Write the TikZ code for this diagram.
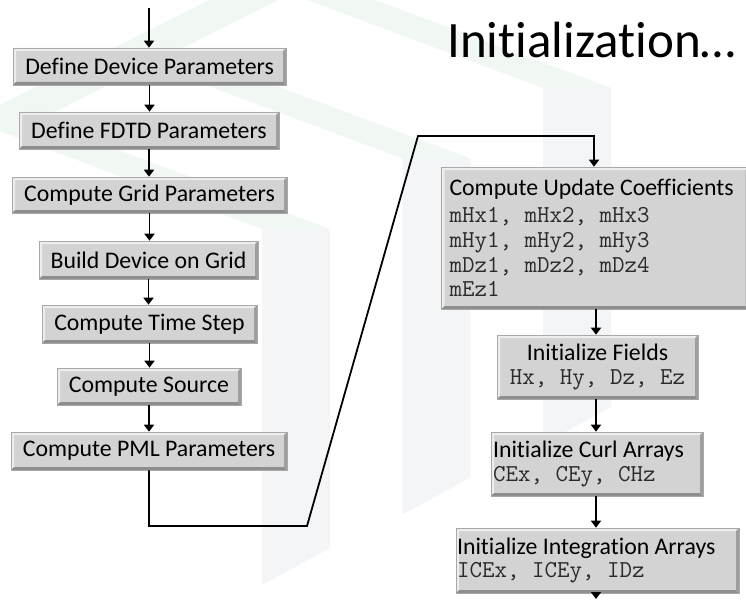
\documentclass[tikz,border=0pt]{standalone}
\usepackage{fontspec}
\setmainfont{Carlito}[Ligatures=NoCommon]
\usetikzlibrary{arrows.meta}
\definecolor{boxfill}{HTML}{D3D3D3}
\definecolor{boxedge}{HTML}{A8A8A8}
\definecolor{bevlight}{HTML}{EDEDED}
\definecolor{bevdark}{HTML}{8E8E8E}
\definecolor{bevmid}{HTML}{9E9E9E}
\definecolor{wmgreen}{HTML}{F1F7F3}
\definecolor{wmgray}{HTML}{F4F5F7}
\definecolor{monotext}{HTML}{2A2A2A}
\tikzset{
  bevel/.style={path picture={
    \fill[bevlight] (path picture bounding box.north west) -- (path picture bounding box.north east)
       -- ([shift={(-3pt,-3pt)}]path picture bounding box.north east) -- ([shift={(3pt,-3pt)}]path picture bounding box.north west) -- cycle;
    \fill[bevlight] (path picture bounding box.north west) -- ([shift={(3pt,-3pt)}]path picture bounding box.north west)
       -- ([shift={(3pt,3pt)}]path picture bounding box.south west) -- (path picture bounding box.south west) -- cycle;
    \fill[bevdark] (path picture bounding box.south west) -- (path picture bounding box.south east)
       -- ([shift={(-3pt,3pt)}]path picture bounding box.south east) -- ([shift={(3pt,3pt)}]path picture bounding box.south west) -- cycle;
    \fill[bevmid] (path picture bounding box.north east) -- (path picture bounding box.south east)
       -- ([shift={(-3pt,3pt)}]path picture bounding box.south east) -- ([shift={(-3pt,-3pt)}]path picture bounding box.north east) -- cycle;
  }},
  flowbox/.style={rectangle, fill=boxfill, draw=boxedge, line width=0.6pt, bevel,
    inner sep=0pt, font=\fontsize{23.8}{24.7}\selectfont, text=black},
  arr/.style={line width=1.8pt, -{Triangle[length=7pt,width=10pt]}},
}
\newcommand{\mtxt}[1]{{\ttfamily\fontsize{24.3}{24.7}\selectfont\color{monotext}#1}}
\begin{document}
\begin{tikzpicture}[x=1pt,y=-1pt]
\useasboundingbox (0,0) rectangle (746,599);
\fill[white] (0,0) rectangle (746,599);
% watermark
\foreach \dx/\dy in {0/0,140.5/-70.5,281/-141}{
  \begin{scope}[shift={(\dx,\dy)}]
    \fill[wmgreen] (-30,120) -- (210,0) -- (278,0) -- (38,120) -- cycle;
    \fill[wmgreen] (-30,120) -- (262,229) -- (330,229) -- (38,120) -- cycle;
    \fill[wmgray] (262,229) -- (330,229) -- (330,548) -- (262,585) -- cycle;
  \end{scope}
}
% title
\node[anchor=base west, inner sep=0pt, font=\fontsize{51}{51}\selectfont] (title) at (447,58) {Initialization…};
% left column
\coordinate (start) at (149,8);
\node[flowbox, minimum width=273pt, minimum height=37pt] (d1) at (149.5,66.5) {Define Device Parameters};
\node[flowbox, minimum width=260pt, minimum height=37pt] (d2) at (149,130.5) {Define FDTD Parameters};
\node[flowbox, minimum width=275pt, minimum height=36pt] (d3) at (149.5,195) {Compute Grid Parameters};
\node[flowbox, minimum width=219pt, minimum height=38pt] (d4) at (148.5,260) {Build Device on Grid};
\node[flowbox, minimum width=215pt, minimum height=38pt] (d5) at (149.5,324) {Compute Time Step};
\node[flowbox, minimum width=184pt, minimum height=37pt] (d6) at (149,386.5) {Compute Source};
\node[flowbox, minimum width=276pt, minimum height=38pt] (d7) at (149,451) {Compute PML Parameters};
% right column
\node[flowbox, minimum width=306pt, minimum height=142pt, text width=291pt, align=flush left, inner xsep=8pt] (r1) at (595,238)
  {Compute Update Coefficients\\[2.3pt]
   \mtxt{mHx1, mHx2, mHx3}\\
   \mtxt{mHy1, mHy2, mHy3}\\
   \mtxt{mDz1, mDz2, mDz4}\\
   \mtxt{mEz1}};
\node[flowbox, minimum width=201pt, minimum height=64pt, align=center] (r2) at (597.5,367)
  {Initialize Fields\\[-1pt] \mtxt{Hx, Hy, Dz, Ez}};
\node[flowbox, minimum width=212pt, minimum height=64pt, text width=208pt, align=flush left, inner xsep=2pt] (r3) at (597,464)
  {Initialize Curl Arrays\\[-1pt] \mtxt{CEx, CEy, CHz}};
\node[flowbox, minimum width=283pt, minimum height=65pt, text width=281pt, align=flush left, inner xsep=1pt] (r4) at (597.5,560.5)
  {Initialize Integration Arrays\\[-1pt] \mtxt{ICEx, ICEy, IDz}};
\coordinate (endpt) at (596,599);
% connectors
\draw[arr] (start) -- (start |- d1.north);
\draw[arr] (d1.south) -- (d1.south |- d2.north);
\draw[arr] (d2.south) -- (d2.south |- d3.north);
\draw[arr] (d3.south) -- (d3.south |- d4.north);
\draw[arr] (d4.south) -- (d4.south |- d5.north);
\draw[arr] (d5.south) -- (d5.south |- d6.north);
\draw[arr] (d6.south) -- (d6.south |- d7.north);
\coordinate (k1) at (149,526);
\coordinate (k2) at (307,526);
\coordinate (k3) at (418,136);
\coordinate (k4) at (594,136);
\draw[arr, line join=miter] (d7.south) -- (k1) -- (k2) -- (k3) -- (k4) -- (k4 |- r1.north);
\draw[arr] (r1.south -| endpt) -- (r2.north -| endpt);
\draw[arr] (r2.south -| endpt) -- (r3.north -| endpt);
\draw[arr] (r3.south -| endpt) -- (r4.north -| endpt);
\draw[arr] (r4.south -| endpt) -- (endpt);
\end{tikzpicture}
\end{document}
